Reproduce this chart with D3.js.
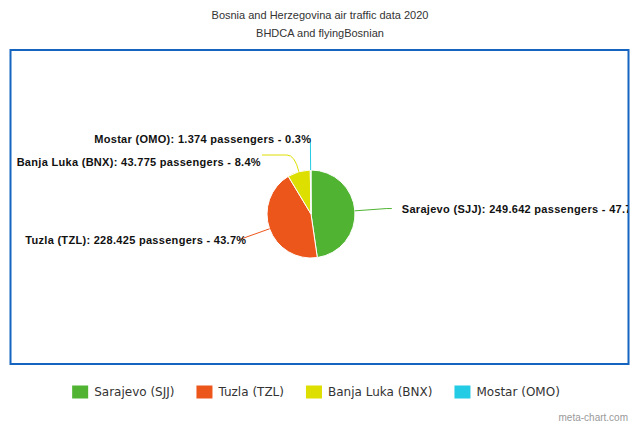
<!DOCTYPE html>
<html>
<head>
<meta charset="utf-8">
<script src="https://cdn.jsdelivr.net/npm/d3@7"></script>
<style>
  body { margin: 0; background: #fff; }
  svg { display: block; }
  .title { font-family: "Liberation Sans", Arial, sans-serif; font-size: 11px; fill: #333; }
  .lbl { font-family: "Liberation Sans", Arial, sans-serif; font-size: 11px; font-weight: bold; fill: #111; letter-spacing: 0.3px; }
  .legend text { font-family: "DejaVu Sans", sans-serif; font-size: 12px; fill: #333; }
  .credit { font-family: "Liberation Sans", Arial, sans-serif; font-size: 10px; fill: #999; }
</style>
</head>
<body>
<div id="content"></div>
<script>

var airports = ["Sarajevo (SJJ)", "Tuzla (TZL)", "Banja Luka (BNX)", "Mostar (OMO)"];
var passengers = [249642, 228425, 43775, 1374];
var passengerText = ["249.642", "228.425", "43.775", "1.374"];
var colors = ["#50B432", "#ED561B", "#DDDF00", "#24CBE5"];

var width = 639, height = 426;
var svg = d3.select("#content").append("svg")
    .attr("width", width).attr("height", height);

// titles
svg.append("text").attr("class", "title")
    .attr("x", 320).attr("y", 19).attr("text-anchor", "middle")
    .text("Bosnia and Herzegovina air traffic data 2020");
svg.append("text").attr("class", "title")
    .attr("x", 320).attr("y", 37).attr("text-anchor", "middle")
    .text("BHDCA and flyingBosnian");

// frame (labels are clipped at it, as in the original)
svg.append("defs").append("clipPath").attr("id", "plotclip")
  .append("rect").attr("x", 11).attr("y", 51).attr("width", 617).attr("height", 312);

svg.append("rect")
    .attr("x", 10.5).attr("y", 50).attr("width", 618).attr("height", 314)
    .attr("fill", "none").attr("stroke", "#1565c0").attr("stroke-width", 2);

var plot = svg.append("g").attr("clip-path", "url(#plotclip)");

var cx = 311, cy = 214, r = 44, labelR = 76;
var total = d3.sum(passengers);

var pie = d3.pie().sort(null).value(function(d) { return d; });
var arc = d3.arc().innerRadius(0).outerRadius(r);
var slices = pie(passengers);

var g = plot.append("g").attr("transform", "translate(" + cx + "," + cy + ")");

g.selectAll("path")
  .data(slices)
  .enter().append("path")
    .attr("d", arc)
    .attr("fill", function(d, i) { return colors[i]; })
    .attr("stroke", "#fff")
    .attr("stroke-width", 1);

// label layout
slices.forEach(function(d, i) {
  var mid = (d.startAngle + d.endAngle) / 2;
  d.i = i;
  d.right = Math.sin(mid) > 0;
  d.edge = [r * Math.sin(mid), -r * Math.cos(mid)];
  d.out = [labelR * Math.sin(mid), -labelR * Math.cos(mid)];
  d.y = d.out[1];
  d.push = 0;
});

// push overlapping labels on the left side downward
var left = slices.filter(function(d) { return !d.right; })
    .sort(function(a, b) { return a.y - b.y; });
for (var k = 1; k < left.length; k++) {
  var minY = left[k - 1].y + 17;
  if (left[k].y < minY) { left[k].push = minY - left[k].y; left[k].y = minY; }
}

slices.forEach(function(d) {
  var path = d3.path();
  var tx;
  path.moveTo(d.edge[0], d.edge[1]);
  if (d.push > 0) {
    d.end = [d.out[0] - 2 * d.push, d.y];
    path.quadraticCurveTo(d.edge[0] - 4, d.y, d.edge[0] - 12, d.y);
    path.lineTo(d.end[0], d.end[1]);
    tx = d.end[0] - 1;
  } else if (d.right) {
    path.lineTo(d.out[0], d.out[1]);
    d.end = [d.out[0] + 5, d.out[1]];
    path.lineTo(d.end[0], d.end[1]);
    tx = d.end[0] + 10;
  } else {
    path.lineTo(d.out[0], d.out[1]);
    d.end = [d.out[0], d.out[1]];
    tx = d.end[0] + (Math.abs(d.edge[0]) < 2 ? 1 : 7);
  }
  g.append("path")
    .attr("d", path.toString())
    .attr("fill", "none")
    .attr("stroke", colors[d.i])
    .attr("stroke-width", 1);

  var pct = (passengers[d.i] / total * 100).toFixed(1);
  g.append("text").attr("class", "lbl")
    .attr("x", tx)
    .attr("y", d.y + (d.push > 0 ? 7 : 1))
    .attr("dy", "0.35em")
    .attr("text-anchor", d.right ? "start" : "end")
    .text(airports[d.i] + ": " + passengerText[d.i] + " passengers - " + pct + "%");
});

// legend
var legend = svg.append("g").attr("class", "legend");
var items = legend.selectAll("g").data(airports).enter().append("g");
items.append("rect")
    .attr("width", 16).attr("height", 13).attr("y", -6.5)
    .attr("fill", function(d, i) { return colors[i]; });
items.append("text")
    .attr("x", 22).attr("dy", "0.35em")
    .text(function(d) { return d; });

var widths = [];
items.each(function() { widths.push(this.getBBox().width); });
var totalW = d3.sum(widths) + 22 * (widths.length - 1);
var xpos = 316 - totalW / 2;
items.attr("transform", function(d, i) {
  var t = "translate(" + xpos + ",392)";
  xpos += widths[i] + 22;
  return t;
});

svg.append("text").attr("class", "credit")
    .attr("x", 628).attr("y", 421).attr("text-anchor", "end")
    .text("meta-chart.com");

</script>
</body>
</html>
